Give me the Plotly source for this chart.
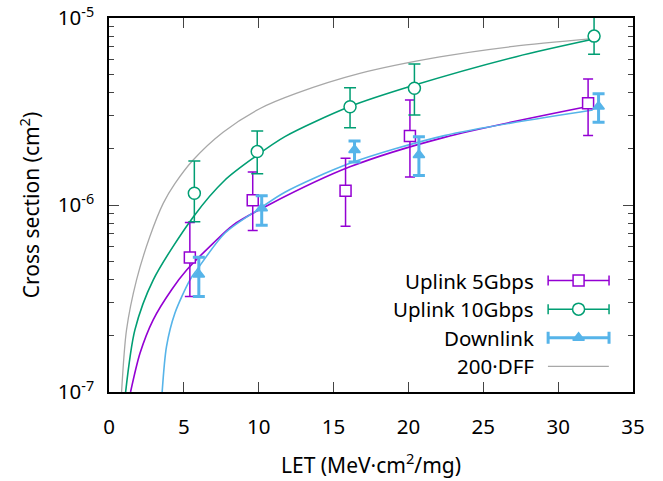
import plotly.graph_objects as go

# ---------------- data ----------------
# Uplink 5Gbps
let_up5 = [5.4, 9.6, 15.8, 20.1, 32.0]
xs_up5 = [5.24e-7, 1.06e-6, 1.19e-6, 2.34e-6, 3.50e-6]
hi_up5 = [8.05e-7, 1.50e-6, 1.78e-6, 3.64e-6, 4.72e-6]
lo_up5 = [3.24e-7, 7.30e-7, 7.70e-7, 1.41e-6, 2.35e-6]

# Uplink 10Gbps
let_up10 = [5.7, 9.9, 16.1, 20.4, 32.4]
xs_up10 = [1.155e-6, 1.93e-6, 3.35e-6, 4.21e-6, 8.0e-6]
hi_up10 = [1.72e-6, 2.49e-6, 4.24e-6, 5.67e-6, 1.03e-5]
lo_up10 = [8.14e-7, 1.47e-6, 2.59e-6, 3.03e-6, 6.40e-6]

# Downlink
let_dn = [6.0, 10.2, 16.4, 20.7, 32.7]
xs_dn = [4.25e-7, 9.6e-7, 1.97e-6, 1.85e-6, 3.36e-6]
hi_dn = [5.26e-7, 1.12e-6, 2.20e-6, 2.32e-6, 3.93e-6]
lo_dn = [3.24e-7, 7.80e-7, 1.70e-6, 1.44e-6, 2.77e-6]

# fitted curves
fit_up5_x = [1.44, 2.07, 2.95, 4.17, 5.2, 6.95, 8.29, 10.75, 16.09, 22.4, 31.97]
fit_up5_y = [1.0e-7, 1.61e-7, 2.43e-7, 3.51e-7, 4.5e-7, 6.24e-7, 7.81e-7, 1.01e-6, 1.60e-6, 2.30e-6, 3.36e-6]

fit_up10_x = [1.11, 1.73, 2.95, 5.64, 7.75, 9.75, 11.75, 16.09, 20.31, 27.2, 32.31]
fit_up10_y = [1.0e-7, 2.15e-7, 3.97e-7, 8.66e-7, 1.36e-6, 1.81e-6, 2.32e-6, 3.36e-6, 4.35e-6, 6.21e-6, 7.69e-6]

fit_dn_x = [3.55, 3.84, 4.40, 5.40, 5.87, 7.75, 10.09, 11.75, 16.09, 22.4, 32.31]
fit_dn_y = [1.0e-7, 1.75e-7, 2.64e-7, 3.97e-7, 4.5e-7, 7.08e-7, 9.6e-7, 1.17e-6, 1.67e-6, 2.35e-6, 3.22e-6]

dff_x = [0.84, 1.17, 1.84, 2.73, 3.62, 4.40, 5.62, 7.62, 10.09, 12.5, 16.75, 22.09, 27.0, 32.31]
dff_y = [1.0e-7, 2.15e-7, 3.98e-7, 6.78e-7, 1.02e-6, 1.30e-6, 1.74e-6, 2.45e-6, 3.28e-6, 3.95e-6, 5.05e-6, 6.19e-6, 7.05e-6, 7.76e-6]

legend_labels = ["Uplink 5Gbps", "Uplink 10Gbps", "Downlink", "200·DFF"]

x_ticks = [0, 5, 10, 15, 20, 25, 30, 35]
y_ticks = [1e-7, 1e-6, 1e-5]
y_ticktext = ["10<sup>-7</sup>", "10<sup>-6</sup>", "10<sup>-5</sup>"]

x_title = "LET (MeV·cm<sup>2</sup>/mg)"
y_title = "Cross section (cm<sup>2</sup>)"

# ---------------- styling ----------------
PURPLE = "#9400D3"
GREEN = "#009E73"
BLUE = "#56B4E9"
GRAY = "#A8A8A8"
FONT = "Noto Sans"

fig = go.Figure()

# curves
for fx, fy, col, w in [(dff_x, dff_y, GRAY, 1.3),
                       (fit_up10_x, fit_up10_y, GREEN, 1.6),
                       (fit_up5_x, fit_up5_y, PURPLE, 1.6),
                       (fit_dn_x, fit_dn_y, BLUE, 1.6)]:
    fig.add_trace(go.Scatter(x=fx, y=fy, mode="lines",
                             line=dict(color=col, width=w, shape="spline", smoothing=0.8),
                             showlegend=False, hoverinfo="skip"))


def errs(y, hi, lo):
    return [h - v for h, v in zip(hi, y)], [v - l for v, l in zip(y, lo)]


def pts(x, y, hi, lo, col, sym, size, thick, capw, fill):
    up, dn = errs(y, hi, lo)
    return go.Scatter(x=x, y=y, mode="markers",
                      marker=dict(symbol=sym, size=size, color=fill,
                                  line=dict(color=col, width=1.5)),
                      error_y=dict(type="data", symmetric=False, array=up, arrayminus=dn,
                                   color=col, thickness=thick, width=capw),
                      showlegend=False)


fig.add_trace(pts(let_up5, xs_up5, hi_up5, lo_up5, PURPLE, "square", 11, 1.5, 5, "white"))
fig.add_trace(pts(let_up10, xs_up10, hi_up10, lo_up10, GREEN, "circle", 12, 1.5, 6, "white"))
fig.add_trace(pts(let_dn, xs_dn, hi_dn, lo_dn, BLUE, "triangle-up", 10, 3, 6, BLUE))

# ---------------- legend (gnuplot style: text left, key right) ----------------
X0, X1, Y0, Y1 = 108.7, 633.5, 17.7, 392.3


def px(x):
    return (x - X0) / (X1 - X0)


def py(y):
    return (Y1 - y) / (Y1 - Y0)


rows_y = [280.7, 309.3, 338.0, 366.7]
key_c = px(579)
key_half = (609.3 - 548.3) / 2 / (X1 - X0)
key_specs = [(PURPLE, "square", 11, 1.5, "white"),
             (GREEN, "circle", 12, 1.5, "white"),
             (BLUE, "triangle-up", 10, 3, BLUE)]
for i, (col, sym, size, th, fill) in enumerate(key_specs):
    fig.add_trace(go.Scatter(x=[key_c], y=[py(rows_y[i])], mode="markers",
                             xaxis="x2", yaxis="y2", cliponaxis=False,
                             marker=dict(symbol=sym, size=size, color=fill,
                                         line=dict(color=col, width=1.5)),
                             error_x=dict(type="data", array=[key_half], color=col,
                                          thickness=th, width=5 if th < 2 else 6),
                             showlegend=False, hoverinfo="skip"))
fig.add_trace(go.Scatter(x=[px(548.3), px(609.3)], y=[py(rows_y[3])] * 2, mode="lines",
                         xaxis="x2", yaxis="y2", cliponaxis=False,
                         line=dict(color=GRAY, width=1.3), showlegend=False, hoverinfo="skip"))

for i, lab in enumerate(legend_labels):
    fig.add_annotation(x=px(536), y=py(rows_y[i]), xref="paper", yref="paper",
                       text=lab, showarrow=False, xanchor="right", yanchor="middle",
                       font=dict(family=FONT, size=20.5, color="black"))

minor_vals = [m * 10 ** e for e in (-7, -6) for m in range(2, 10)]

fig.update_layout(
    width=663, height=481,
    margin=dict(l=108.7, r=29.5, t=17.7, b=88.7, autoexpand=False),
    paper_bgcolor="white", plot_bgcolor="white",
    font=dict(family=FONT, size=20.5, color="black"),
    showlegend=False,
    xaxis=dict(range=[0, 35], tickvals=x_ticks, ticks="inside", ticklen=10, tickwidth=1.3,
               showline=True, linecolor="black", linewidth=1.5, mirror="allticks",
               showgrid=False, zeroline=False, ticklabelstandoff=16, automargin=False,
               title=dict(text=x_title, standoff=19, font=dict(size=21))),
    yaxis=dict(type="log", range=[-7, -5], tickvals=y_ticks, ticktext=y_ticktext,
               ticks="inside", ticklen=10, tickwidth=1.3,
               minor=dict(tickvals=minor_vals, ticks="inside", ticklen=5, tickwidth=1.3,
                          showgrid=False),
               showline=True, linecolor="black", linewidth=1.5, mirror="allticks",
               showgrid=False, zeroline=False, ticklabelstandoff=9, automargin=False,
               title=dict(text=y_title, standoff=13, font=dict(size=21))),
    xaxis2=dict(overlaying="x", range=[0, 1], visible=False, fixedrange=True),
    yaxis2=dict(overlaying="y", range=[0, 1], visible=False, fixedrange=True),
)

fig.write_html("out.html", config={"displayModeBar": False},
               post_script="document.body.style.margin='0px';"
                           "document.documentElement.style.overflow='hidden';")
